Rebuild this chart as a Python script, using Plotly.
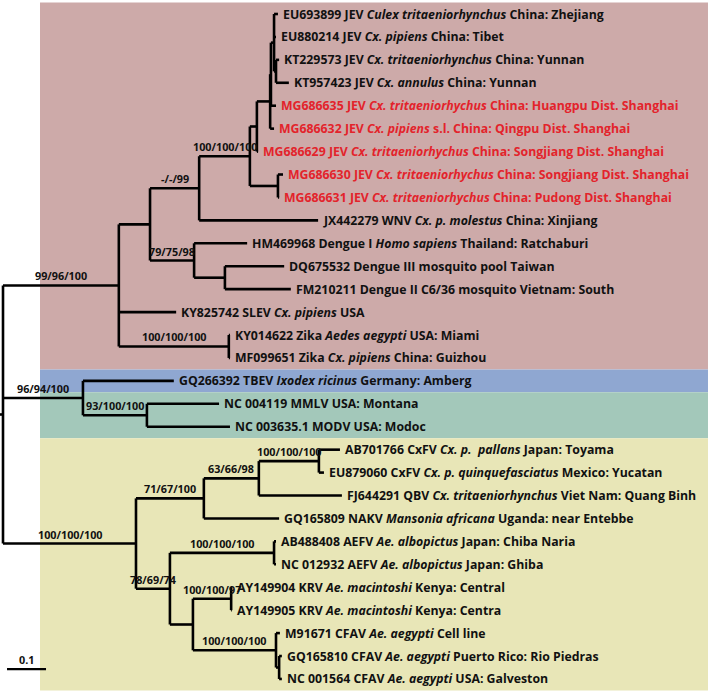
import plotly.graph_objs as go

# tip labels, top to bottom
leaf_labels = [
    "EU693899 JEV <i>Culex tritaeniorhynchus</i> China: Zhejiang",
    "EU880214 JEV <i>Cx. pipiens</i> China: Tibet",
    "KT229573 JEV <i>Cx. tritaeniorhynchus</i> China: Yunnan",
    "KT957423 JEV <i>Cx. annulus</i> China: Yunnan",
    "MG686635 JEV <i>Cx. tritaeniorhychus</i> China: Huangpu Dist. Shanghai",
    "MG686632 JEV <i>Cx. pipiens</i> s.l. China: Qingpu Dist. Shanghai",
    "MG686629 JEV <i>Cx. tritaeniorhychus</i> China: Songjiang Dist. Shanghai",
    "MG686630 JEV <i>Cx. tritaeniorhychus</i> China: Songjiang Dist. Shanghai",
    "MG686631 JEV <i>Cx. tritaeniorhychus</i> China: Pudong Dist. Shanghai",
    "JX442279 WNV <i>Cx. p. molestus</i> China: Xinjiang",
    "HM469968 Dengue I <i>Homo sapiens</i> Thailand: Ratchaburi",
    "DQ675532 Dengue III mosquito pool Taiwan",
    "FM210211 Dengue II C6/36 mosquito Vietnam: South",
    "KY825742 SLEV <i>Cx. pipiens</i> USA",
    "KY014622 Zika <i>Aedes aegypti</i> USA: Miami",
    "MF099651 Zika <i>Cx. pipiens</i> China: Guizhou",
    "GQ266392 TBEV <i>Ixodex ricinus</i> Germany: Amberg",
    "NC 004119 MMLV USA: Montana",
    "NC 003635.1 MODV USA: Modoc",
    "AB701766 CxFV <i>Cx. p.  pallans</i> Japan: Toyama",
    "EU879060 CxFV <i>Cx. p. quinquefasciatus</i> Mexico: Yucatan",
    "FJ644291 QBV <i>Cx. tritaeniorhynchus</i> Viet Nam: Quang Binh",
    "GQ165809 NAKV <i>Mansonia africana</i> Uganda: near Entebbe",
    "AB488408 AEFV <i>Ae. albopictus</i> Japan: Chiba Naria",
    "NC 012932 AEFV <i>Ae. albopictus</i> Japan: Ghiba",
    "AY149904 KRV <i>Ae. macintoshi</i> Kenya: Central",
    "AY149905 KRV <i>Ae. macintoshi</i> Kenya: Centra",
    "M91671 CFAV <i>Ae. aegypti</i> Cell line",
    "GQ165810 CFAV <i>Ae. aegypti</i> Puerto Rico: Rio Piedras",
    "NC 001564 CFAV <i>Ae. aegypti</i> USA: Galveston",
]
leaf_parents = ["Nc", "Nc", "Nf", "Nf", "Nc2", "Nb", "Na", "Nd", "Nd", "JW",
                "DEN", "D23", "D23", "FLA", "ZIK", "ZIK", "TB", "MM", "MM", "CXF",
                "CXF", "C2", "C1", "AEF", "AEF", "KRV", "KRV", "CFA", "CF2", "CF2"]
# distance from root (substitutions/site)
leaf_depths = [0.705, 0.700, 0.708, 0.733, 0.700, 0.695, 0.654, 0.718, 0.708, 0.808,
               0.626, 0.721, 0.738, 0.444, 0.582, 0.582, 0.438, 0.554, 0.582, 0.864,
               0.823, 0.869, 0.708, 0.700, 0.700, 0.587, 0.587, 0.710, 0.715, 0.715]

# sequences from this study (shown in red)
new_sequences = ["MG686635", "MG686632", "MG686629", "MG686630", "MG686631"]

# internal nodes
node_names = ["FLA", "N1", "JW", "JEV", "Na", "Nb", "Nc2", "Nc", "Nf", "Nd",
              "DEN", "D23", "ZIK", "TB", "MM", "ISF", "C1", "C2", "CXF", "C3",
              "AEF", "C4", "KRV", "CFA", "CF2"]
node_parents = ["root", "FLA", "N1", "JW", "JEV", "Na", "Nb", "Nc2", "Nc", "JEV",
                "N1", "DEN", "FLA", "root", "TB", "root", "ISF", "C1", "C2", "ISF",
                "C3", "C3", "C4", "C4", "CFA"]
node_depths = [0.297, 0.377, 0.503, 0.633, 0.651, 0.685, 0.687, 0.695, 0.700, 0.705,
               0.490, 0.569, 0.579, 0.205, 0.369, 0.341, 0.515, 0.656, 0.810, 0.428,
               0.695, 0.487, 0.585, 0.700, 0.708]
node_support = ["99/96/100", "", "-/-/99", "100/100/100", "", "", "", "", "", "",
                "79/75/98", "", "100/100/100", "96/94/100", "93/100/100", "100/100/100",
                "71/67/100", "63/66/98", "100/100/100", "78/69/74", "100/100/100", "",
                "100/100/97", "100/100/100", ""]

# shaded groups (first leaf, last leaf)
band_first = [0, 16, 17, 19]
band_last = [15, 16, 18, 29]
band_colors = ["#CDAAA9", "#8FA7D1", "#A3C8BA", "#E8E6B7"]

# ---- tree layout ----
depth = {"root": 0.0}
depth.update(dict(zip(node_names, node_depths)))
parent_of = dict(zip(node_names, node_parents))
children = {n: [] for n in ["root"] + node_names}
for i, p in enumerate(leaf_parents):
    children[p].append(("leaf", i))
for n, p in zip(node_names, node_parents):
    children[p].append(("node", n))

node_y = {}


def get_y(kind, key):
    if kind == "leaf":
        return key
    if key not in node_y:
        ys = [get_y(k, c) for k, c in children[key]]
        node_y[key] = (min(ys) + max(ys)) / 2
    return node_y[key]


get_y("node", "root")

xs, ys = [], []
for n in ["root"] + node_names:
    cys = [get_y(k, c) for k, c in children[n]]
    xs += [depth[n], depth[n], None]
    ys += [min(cys), max(cys), None]
    for k, c in children[n]:
        cx = leaf_depths[c] if k == "leaf" else depth[c]
        xs += [depth[n], cx, None]
        ys += [get_y(k, c), get_y(k, c), None]
# root stub
xs += [-0.008, 0, None]
ys += [node_y["root"], node_y["root"], None]

fig = go.Figure()
fig.add_trace(go.Scatter(x=xs, y=ys, mode="lines",
                         line=dict(color="black", width=2.6),
                         hoverinfo="skip", showlegend=False))

# background bands
for f, l, c in zip(band_first, band_last, band_colors):
    fig.add_shape(type="rect", xref="x", yref="y", x0=0.0949, x1=1.8077,
                  y0=f - 0.5, y1=l + 0.5, fillcolor=c, line_width=0, layer="below")

# tip labels
for i, lab in enumerate(leaf_labels):
    col = "#E3232B" if lab.split(" ")[0] in new_sequences else "#111111"
    fig.add_annotation(x=leaf_depths[i], y=i, text=lab, showarrow=False,
                       xanchor="left", yanchor="middle", xshift=3,
                       font=dict(family="Open Sans", size=12.3, color=col, weight="bold"))

# support values
for n, s in zip(node_names, node_support):
    if s:
        xm = (depth[parent_of[n]] + depth[n]) / 2
        fig.add_annotation(x=xm, y=node_y[n], text=s, showarrow=False,
                           xanchor="center", yanchor="bottom", yshift=0,
                           font=dict(family="Open Sans", size=10.8, color="#111111", weight="bold"))

# scale bar
fig.add_shape(type="line", xref="x", yref="y", x0=0.0103, x1=0.1103, y0=28.57, y1=28.57,
              line=dict(color="black", width=2.2))
fig.add_annotation(x=0.0603, y=28.57, text="0.1", showarrow=False, yanchor="bottom",
                   yshift=0, font=dict(family="Open Sans", size=10.8, color="#111111", weight="bold"))

fig.update_layout(
    width=709, height=691,
    margin=dict(l=0, r=0, t=0, b=0),
    paper_bgcolor="white", plot_bgcolor="white",
    xaxis=dict(range=[-0.0077, 1.8103], visible=False, fixedrange=True),
    yaxis=dict(range=[29.525, -0.6106], visible=False, fixedrange=True),
)

fig.write_html("out.html", config={"displayModeBar": False},
               post_script="document.body.style.margin='0px';")
